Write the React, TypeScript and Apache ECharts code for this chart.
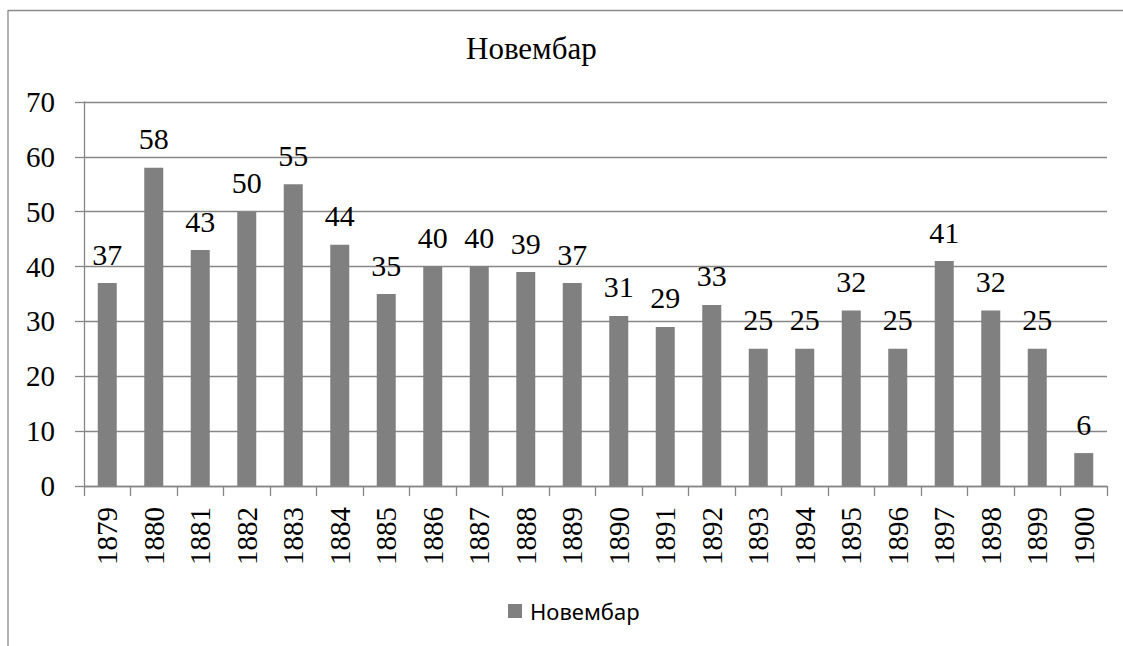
import React, { useEffect, useRef } from "react";
import * as echarts from "echarts";

const categories = ["1879","1880","1881","1882","1883","1884","1885","1886","1887","1888","1889","1890","1891","1892","1893","1894","1895","1896","1897","1898","1899","1900"];
const values = [37,58,43,50,55,44,35,40,40,39,37,31,29,33,25,25,32,25,41,32,25,6];
const seriesName = "Новембар";
const titleText = "Новембар";

export default function App() {
  const ref = useRef<HTMLDivElement>(null);
  useEffect(() => {
    document.body.style.margin = "0";
    document.body.style.overflow = "hidden";
    const chart = echarts.init(ref.current!, null, { renderer: "svg" });
    const serif = "Liberation Serif";
    const gray = "#878787";
    chart.setOption({
      animation: false,
      backgroundColor: "#ffffff",
      title: {
        text: titleText,
        left: 466,
        top: 33,
        padding: 0,
        textStyle: { fontFamily: serif, fontSize: 31, fontWeight: "normal", color: "#000" },
      },
      graphic: [
        {
          type: "line",
          shape: { x1: 8, y1: 10.5, x2: 1123, y2: 10.5 },
          style: { stroke: "#8c8c8c", lineWidth: 1.3 },
          silent: true,
        },
        {
          type: "line",
          shape: { x1: 8, y1: 10, x2: 8, y2: 646 },
          style: { stroke: "#8c8c8c", lineWidth: 1.3 },
          silent: true,
        },
      ],
      legend: {
        data: [seriesName],
        left: 508,
        top: 600,
        itemWidth: 14,
        itemHeight: 14,
        padding: 0,
        icon: "rect",
        textStyle: { fontFamily: "Noto Sans", fontSize: 22, color: "#000", padding: [0, 0, 0, 3] },
      },
      grid: { left: 84, right: 16, top: 102, bottom: 160, containLabel: false },
      xAxis: {
        type: "category",
        data: categories,
        axisLine: { show: true, lineStyle: { color: gray, width: 1.3 } },
        axisTick: { show: true, length: 10, lineStyle: { color: gray, width: 1.3 } },
        axisLabel: { rotate: 90, margin: 21, fontFamily: serif, fontSize: 29, color: "#000", interval: 0 },
        splitLine: { show: false },
      },
      yAxis: {
        type: "value",
        min: 0,
        max: 70,
        interval: 10,
        axisLine: { show: true, lineStyle: { color: gray, width: 1.3 } },
        axisTick: { show: true, length: 9, lineStyle: { color: gray, width: 1.3 } },
        axisLabel: { margin: 29, fontFamily: serif, fontSize: 29, color: "#000" },
        splitLine: { show: true, lineStyle: { color: gray, width: 1.3 } },
      },
      series: [
        {
          name: seriesName,
          type: "bar",
          data: values,
          barWidth: 19,
          itemStyle: { color: "#808080" },
          label: { show: true, position: "top", distance: 14, fontFamily: serif, fontSize: 30, color: "#000" },
        },
      ],
    });
    return () => chart.dispose();
  }, []);
  return <div ref={ref} style={{ position: "fixed", left: 0, top: 0, width: 1123, height: 646 }} />;
}
